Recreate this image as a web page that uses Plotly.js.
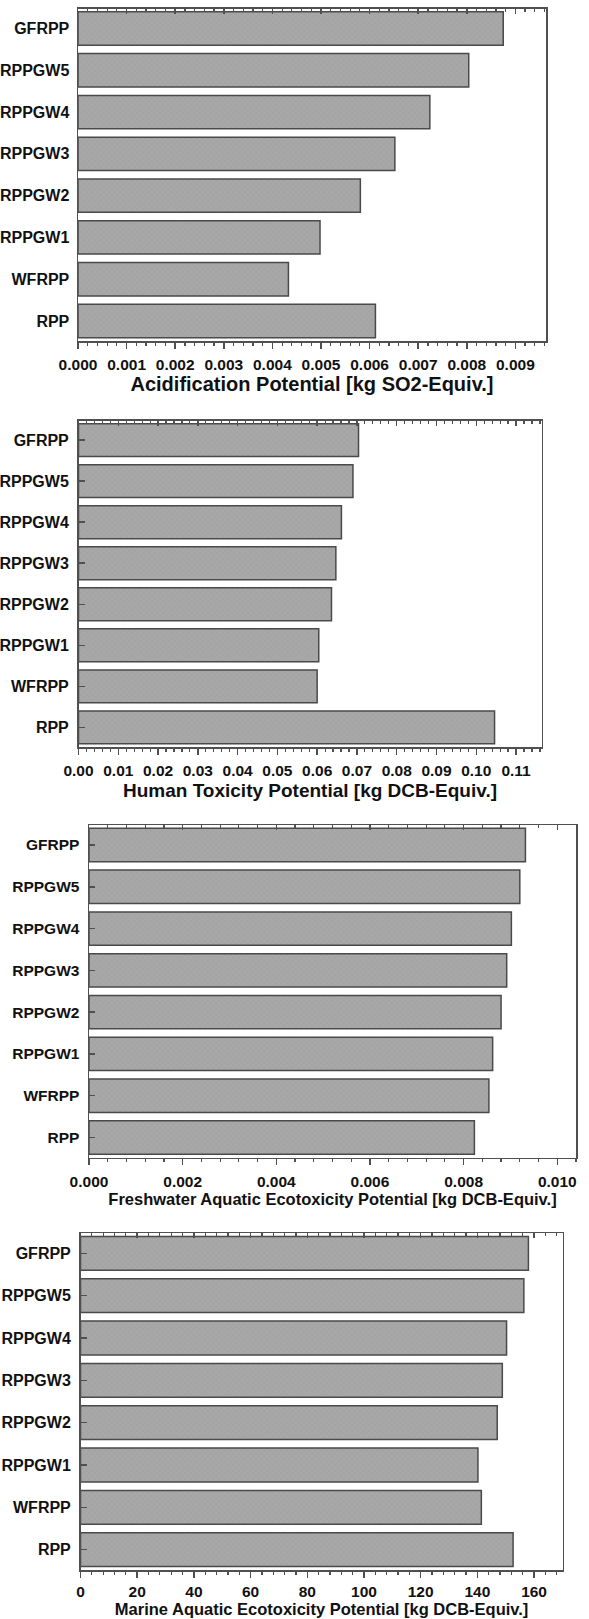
<!DOCTYPE html>
<html>
<head>
<meta charset="utf-8">
<script src="https://cdn.plot.ly/plotly-3.0.1.min.js"></script>
<style>
html,body{margin:0;padding:0;background:#fff;}
#chart{width:589px;height:1619px;}
</style>
</head>
<body>
<div id="chart"></div>
<script>
// ---- data ----
const categories = ['GFRPP','RPPGW5','RPPGW4','RPPGW3','RPPGW2','RPPGW1','WFRPP','RPP'];
const acidificationValues = [0.00875,0.00804,0.00724,0.00652,0.00581,0.00498,0.00433,0.00612];
const humanToxicityValues = [0.0704,0.0690,0.0661,0.0647,0.0636,0.0604,0.0600,0.1046];
const freshwaterValues = [0.00932,0.00920,0.00902,0.00892,0.00880,0.00862,0.00854,0.00823];
const marineValues = [158.0,156.4,150.3,148.8,147.0,140.2,141.4,152.6];
const axisTitles = [
  'Acidification Potential [kg SO2-Equiv.]',
  'Human Toxicity Potential [kg DCB-Equiv.]',
  'Freshwater Aquatic Ecotoxicity Potential [kg DCB-Equiv.]',
  'Marine Aquatic Ecotoxicity Potential [kg DCB-Equiv.]'
];
const seriesList = [acidificationValues, humanToxicityValues, freshwaterValues, marineValues];

// ---- layout configuration (pixels in the 589x1619 page) ----
const W = 589, H = 1619;
const panels = [
  {left:78,  right:546,   top:8.5,  bottom:341,   xmax:0.00963, dtick:0.001, fmt:'.3f', tickFont:15.5, labFont:16, titleFont:20,   yticks:false, labStand:4, tlStand:3, titleStand:5},
  {left:78.5,right:541.5, top:420.5,bottom:747,   xmax:0.1164,  dtick:0.01,  fmt:'.2f', tickFont:15.5, labFont:16, titleFont:19,   yticks:true,  labStand:5, tlStand:3, titleStand:5},
  {left:89,  right:576,   top:825,  bottom:1157.5,xmax:0.0104,  dtick:0.002, fmt:'.3f', tickFont:15.5, labFont:15.5, titleFont:16.5, yticks:true,  labStand:5, tlStand:3, titleStand:4},
  {left:80.5,right:562.7, top:1233, bottom:1570,  xmax:170.1,   dtick:20,    fmt:'',    tickFont:15.5, labFont:16, titleFont:16.5, yticks:true,  labStand:5, tlStand:1, titleStand:0}
];

const FONT = '"Liberation Sans", Arial, sans-serif';
const AX = '#505050';
const TXT = '#111111';
const traces = [];
const layout = {
  width: W, height: H,
  margin: {l:0, r:0, t:0, b:0},
  paper_bgcolor: '#ffffff',
  plot_bgcolor: '#ffffff',
  showlegend: false,
  font: {family: FONT, color: TXT}
};

panels.forEach((p, i) => {
  const n = i + 1;
  const xs = n === 1 ? '' : String(n);
  const topN = n + 4;
  traces.push({
    type: 'bar',
    orientation: 'h',
    x: seriesList[i],
    y: categories,
    xaxis: 'x' + xs,
    yaxis: 'y' + xs,
    width: 0.8,
    marker: {
      color: '#a6a6a6',
      line: {color: '#4a4a4a', width: 1.5},
      pattern: {shape: 'x', size: 4, solidity: 0.12, fgcolor: '#929292', bgcolor: '#a8a8a8'}
    },
    hoverinfo: 'x+y'
  });
  // carrier for the mirrored top axis (draws nothing visible)
  traces.push({
    type: 'scatter',
    mode: 'markers',
    x: seriesList[i],
    y: categories,
    xaxis: 'x' + topN,
    yaxis: 'y' + xs,
    marker: {opacity: 0, size: 1},
    hoverinfo: 'skip',
    showlegend: false
  });
  const xdom = [p.left / W, p.right / W];
  const ydom = [1 - p.bottom / H, 1 - p.top / H];
  layout['xaxis' + xs] = {
    domain: xdom,
    anchor: 'y' + xs,
    range: [0, p.xmax],
    dtick: p.dtick,
    tick0: 0,
    tickformat: p.fmt,
    ticks: 'outside',
    ticklen: 6,
    tickwidth: 1.5,
    tickcolor: AX,
    minor: {dtick: p.dtick / 5, ticks: 'outside', ticklen: 3, tickwidth: 1.2, tickcolor: AX},
    showline: true,
    linecolor: AX,
    linewidth: 1.5,
    showgrid: false,
    zeroline: false,
    layer: 'above traces',
    ticklabelstandoff: p.tlStand,
    tickfont: {family: FONT, size: p.tickFont, color: TXT, weight: 'bold'},
    title: {text: axisTitles[i], standoff: p.titleStand, font: {family: FONT, size: p.titleFont, color: TXT, weight: 'bold'}},
    fixedrange: true
  };
  layout['xaxis' + topN] = {
    domain: xdom,
    overlaying: 'x' + xs,
    anchor: 'y' + xs,
    side: 'top',
    range: [0, p.xmax],
    dtick: p.dtick,
    tick0: 0,
    ticks: 'inside',
    ticklen: 5,
    tickwidth: 1.5,
    tickcolor: AX,
    minor: {dtick: p.dtick / 5, ticks: 'inside', ticklen: 3, tickwidth: 1.2, tickcolor: AX},
    showticklabels: false,
    showline: true,
    linecolor: AX,
    linewidth: 1.5,
    showgrid: false,
    zeroline: false,
    layer: 'above traces',
    fixedrange: true
  };
  layout['yaxis' + xs] = {
    domain: ydom,
    anchor: 'x' + xs,
    type: 'category',
    categoryorder: 'array',
    categoryarray: categories,
    range: [7.48, -0.48],
    ticks: p.yticks ? 'inside' : '',
    ticklen: 6,
    tickwidth: 1.5,
    tickcolor: AX,
    showline: true,
    mirror: true,
    linecolor: AX,
    linewidth: 1.5,
    showgrid: false,
    zeroline: false,
    layer: 'above traces',
    ticklabelstandoff: p.labStand,
    tickfont: {family: FONT, size: p.labFont, color: TXT, weight: 'bold'},
    fixedrange: true
  };
});

Plotly.newPlot('chart', traces, layout, {displayModeBar: false, staticPlot: true});
</script>
</body>
</html>
